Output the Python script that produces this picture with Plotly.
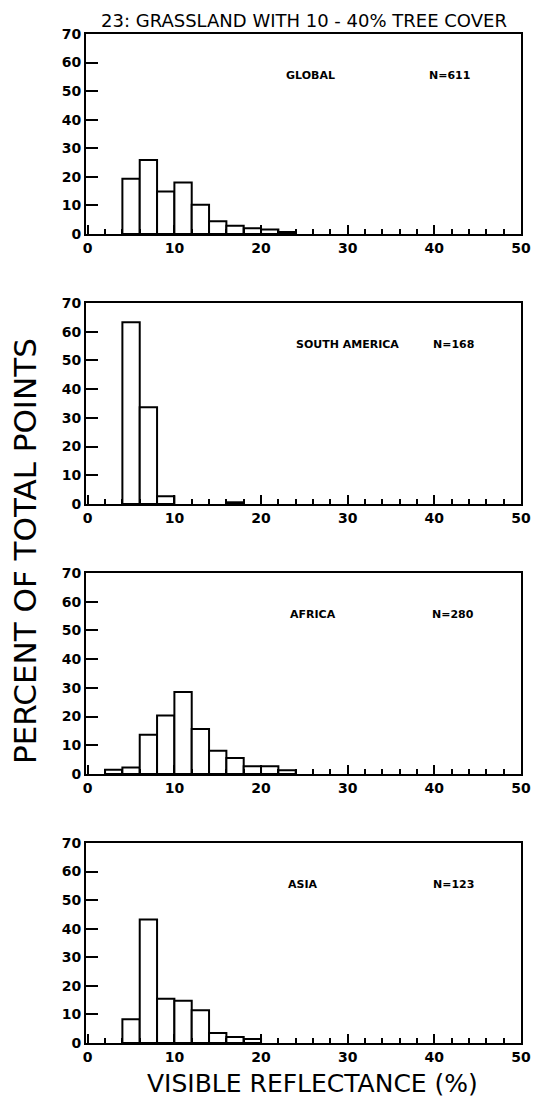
import plotly.graph_objects as go

# Bin left edges (visible reflectance %, width 2)
bin_left = [0, 2, 4, 6, 8, 10, 12, 14, 16, 18, 20, 22, 24]

global_pct = [0, 0, 19.3, 25.9, 14.9, 18.0, 10.2, 4.5, 2.9, 2.0, 1.6, 0.7, 0]
south_america_pct = [0, 0, 63.3, 33.7, 2.7, 0, 0, 0, 0.6, 0, 0, 0, 0]
africa_pct = [0, 1.5, 2.3, 13.7, 20.4, 28.6, 15.7, 8.1, 5.6, 2.7, 2.7, 1.3, 0]
asia_pct = [0, 0, 8.3, 43.2, 15.5, 14.8, 11.5, 3.5, 2.1, 1.4, 0, 0, 0]

regions = ["GLOBAL", "SOUTH AMERICA", "AFRICA", "ASIA"]
counts = ["N=611", "N=168", "N=280", "N=123"]
series = [global_pct, south_america_pct, africa_pct, asia_pct]
region_x = [25.7, 30.0, 26.0, 24.8]
count_x = [41.8, 42.2, 42.2, 42.2]

title = "23: GRASSLAND WITH 10 - 40% TREE COVER"
x_title = "VISIBLE REFLECTANCE (%)"
y_title = "PERCENT OF TOTAL POINTS"

# page has an 8px body margin; size the figure to fit inside the window
OFF = 8
W, H = 539 - 2 * OFF, 1107 - 2 * OFF


def px_x(p):
    return (p - OFF) / W


def px_y(p):
    return 1 - (p - OFF) / H


# panel pixel extents in window coordinates (top, bottom)
panels_px = [(34, 234), (303, 504), (573, 774), (843, 1043)]
x_px = (86, 521)

FONT = "DejaVu Sans, Liberation Sans, Arial, sans-serif"

fig = go.Figure()
layout = dict(
    width=W, height=H,
    margin=dict(l=0, r=0, t=0, b=0),
    paper_bgcolor="white", plot_bgcolor="white",
    showlegend=False,
    font=dict(family=FONT, color="black"),
)
tickfont = dict(size=14, family=FONT, color="black", weight="bold")
annotations = []
for i, (vals, reg, cnt) in enumerate(zip(series, regions, counts)):
    n = "" if i == 0 else str(i + 1)
    xa, ya = "x" + n, "y" + n
    xs = [b + 1 for b, v in zip(bin_left, vals) if v > 0]
    ys = [v for v in vals if v > 0]
    fig.add_trace(go.Bar(
        x=xs, y=ys, width=2, xaxis=xa, yaxis=ya,
        marker=dict(color="white", line=dict(color="black", width=2)),
    ))
    top, bot = panels_px[i]
    layout["xaxis" + n] = dict(
        domain=[px_x(x_px[0]), px_x(x_px[1])], range=[-0.2, 50], anchor=ya,
        showline=True, mirror=True, linecolor="black", linewidth=2,
        ticks="inside", ticklen=9, tickwidth=2, tickcolor="black",
        tickvals=[0, 10, 20, 30, 40, 50],
        minor=dict(dtick=2, ticks="inside", ticklen=5, tickwidth=2, tickcolor="black", showgrid=False),
        showgrid=False, zeroline=False, automargin=False, ticklabeloverflow="allow",
        tickfont=tickfont, fixedrange=True,
    )
    layout["yaxis" + n] = dict(
        domain=[px_y(bot), px_y(top)], range=[0, 70], anchor=xa,
        showline=True, mirror=True, linecolor="black", linewidth=2,
        ticks="inside", ticklen=12, tickwidth=2, tickcolor="black",
        tickvals=[0, 10, 20, 30, 40, 50, 60, 70],
        showgrid=False, zeroline=False, automargin=False, ticklabeloverflow="allow",
        tickfont=tickfont, fixedrange=True,
    )
    afont = dict(size=11, family=FONT, weight="bold", color="black")
    annotations.append(dict(x=region_x[i], y=55.6, xref=xa, yref=ya, text=reg, showarrow=False,
                            xanchor="center", yanchor="middle", font=afont))
    annotations.append(dict(x=count_x[i], y=55.6, xref=xa, yref=ya, text=cnt, showarrow=False,
                            xanchor="center", yanchor="middle", font=afont))

annotations.append(dict(x=px_x(304), y=px_y(20), xref="paper", yref="paper", text=title,
                        xanchor="center", yanchor="middle",
                        showarrow=False, font=dict(size=18, family=FONT)))
annotations.append(dict(x=px_x(312), y=px_y(1083), xref="paper", yref="paper", text=x_title,
                        xanchor="center", yanchor="middle",
                        showarrow=False, font=dict(size=25, family=FONT)))
annotations.append(dict(x=px_x(25), y=px_y(551), xref="paper", yref="paper", text=y_title,
                        xanchor="center", yanchor="middle",
                        textangle=-90, showarrow=False, font=dict(size=31, family=FONT)))
layout["annotations"] = annotations
fig.update_layout(**layout)
fig.write_html("out.html")
